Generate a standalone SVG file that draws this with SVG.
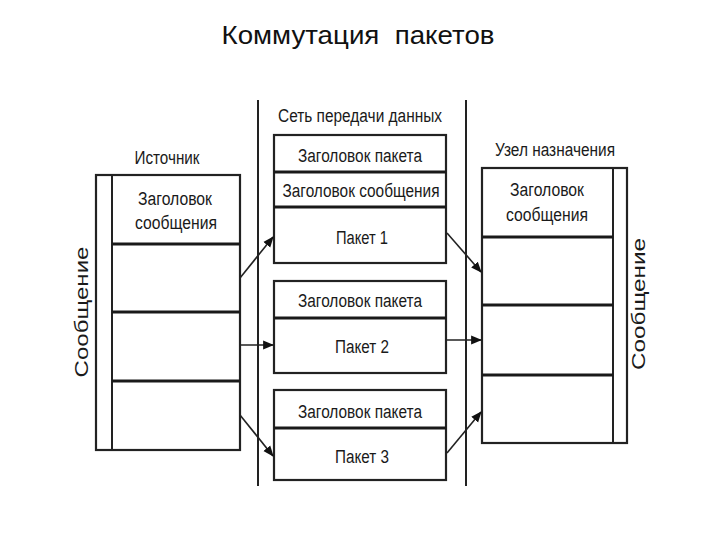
<svg xmlns="http://www.w3.org/2000/svg" width="720" height="540" viewBox="0 0 720 540">
<defs>
<style>
.t{font-family:"Liberation Sans",Arial,sans-serif;font-size:18px;fill:#1a1a1a;text-anchor:middle}
.title{font-family:"Liberation Sans",Arial,sans-serif;font-size:25px;fill:#111;text-anchor:middle}
.box{fill:#fff;stroke:#222;stroke-width:2.2}
.div{stroke:#1a1a1a;stroke-width:3}
.sep{stroke:#222;stroke-width:2}
.con{stroke:#222;stroke-width:1.6;fill:none;marker-end:url(#ah)}
</style>
<marker id="ah" viewBox="0 0 10 10" refX="9" refY="5" markerWidth="11" markerHeight="11" orient="auto" markerUnits="userSpaceOnUse">
<path d="M0,1 L10,5 L0,9 z" fill="#111"/>
</marker>
</defs>
<rect width="720" height="540" fill="#fff"/>
<text class="title" x="358" y="44" xml:space="preserve" textLength="273" lengthAdjust="spacingAndGlyphs">Коммутация  пакетов</text>

<g id="separators">
<line class="sep" x1="258" y1="100" x2="258" y2="486"/>
<line class="sep" x1="466" y1="100" x2="466" y2="486"/>
</g>

<g id="source">
<text class="t" x="167" y="164" textLength="65" lengthAdjust="spacingAndGlyphs">Источник</text>
<rect class="box" x="96" y="175" width="144" height="275"/>
<line class="sep" x1="112" y1="175" x2="112" y2="450"/>
<line class="div" x1="112" y1="244" x2="240" y2="244"/>
<line class="div" x1="112" y1="312" x2="240" y2="312"/>
<line class="div" x1="112" y1="381" x2="240" y2="381"/>
<text class="t" x="175" y="205" textLength="74" lengthAdjust="spacingAndGlyphs">Заголовок</text>
<text class="t" x="176" y="229" textLength="82" lengthAdjust="spacingAndGlyphs">сообщения</text>
<text class="t" transform="translate(88,312) rotate(-90)" x="0" y="0" textLength="131" lengthAdjust="spacingAndGlyphs">Сообщение</text>
</g>

<g id="network-label">
<text class="t" x="360" y="122" textLength="164" lengthAdjust="spacingAndGlyphs">Сеть передачи данных</text>
</g>

<g id="packet1">
<rect class="box" x="274" y="135" width="172" height="128"/>
<line class="div" x1="274" y1="172" x2="446" y2="172"/>
<line class="div" x1="274" y1="207" x2="446" y2="207"/>
<text class="t" x="360" y="162" textLength="124" lengthAdjust="spacingAndGlyphs">Заголовок пакета</text>
<text class="t" x="361" y="197" textLength="157" lengthAdjust="spacingAndGlyphs">Заголовок сообщения</text>
<text class="t" x="362" y="244" textLength="52" lengthAdjust="spacingAndGlyphs">Пакет 1</text>
</g>

<g id="packet2">
<rect class="box" x="274" y="281" width="172" height="92"/>
<line class="div" x1="274" y1="318" x2="446" y2="318"/>
<text class="t" x="360" y="307" textLength="124" lengthAdjust="spacingAndGlyphs">Заголовок пакета</text>
<text class="t" x="362" y="353" textLength="54" lengthAdjust="spacingAndGlyphs">Пакет 2</text>
</g>

<g id="packet3">
<rect class="box" x="274" y="390" width="172" height="90"/>
<line class="div" x1="274" y1="428" x2="446" y2="428"/>
<text class="t" x="360" y="418" textLength="124" lengthAdjust="spacingAndGlyphs">Заголовок пакета</text>
<text class="t" x="362" y="463" textLength="54" lengthAdjust="spacingAndGlyphs">Пакет 3</text>
</g>

<g id="destination">
<text class="t" x="555" y="156" textLength="120" lengthAdjust="spacingAndGlyphs">Узел назначения</text>
<rect class="box" x="482" y="168" width="145" height="275"/>
<line class="sep" x1="613" y1="168" x2="613" y2="443"/>
<line class="div" x1="482" y1="237" x2="613" y2="237"/>
<line class="div" x1="482" y1="305" x2="613" y2="305"/>
<line class="div" x1="482" y1="375" x2="613" y2="375"/>
<text class="t" x="547" y="196" textLength="74" lengthAdjust="spacingAndGlyphs">Заголовок</text>
<text class="t" x="547" y="221" textLength="82" lengthAdjust="spacingAndGlyphs">сообщения</text>
<text class="t" transform="translate(645,304) rotate(-90)" x="0" y="0" textLength="132" lengthAdjust="spacingAndGlyphs">Сообщение</text>
</g>

<g id="connectors">
<line class="con" x1="240" y1="278" x2="273" y2="237"/>
<line class="con" x1="240" y1="345" x2="273" y2="345"/>
<line class="con" x1="240" y1="415" x2="273" y2="456"/>
<line class="con" x1="447" y1="233" x2="481" y2="272"/>
<line class="con" x1="447" y1="340" x2="481" y2="340"/>
<line class="con" x1="447" y1="453" x2="481" y2="412"/>
</g>
</svg>
